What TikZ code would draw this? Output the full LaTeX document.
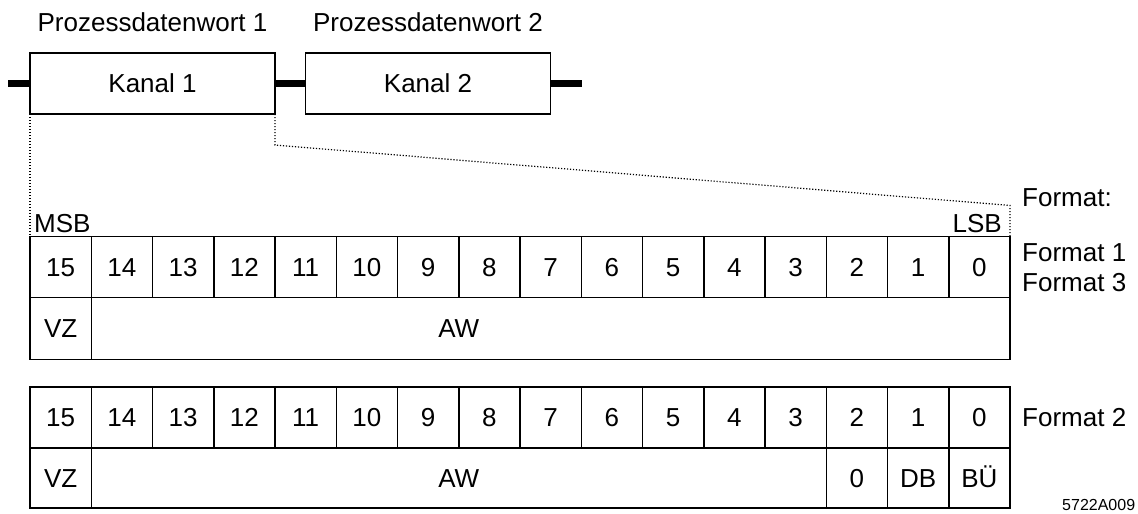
\documentclass[tikz,border=0pt]{standalone}
\usepackage{fontspec}
\setmainfont{Liberation Sans}
\usetikzlibrary{calc}

\begin{document}
\begin{tikzpicture}[x=1pt,y=-1pt,
    cell/.style={draw,line width=1.5pt,minimum width=61.25pt,minimum height=61pt,inner sep=0pt,outer sep=0pt,text height=18.6pt,text depth=0pt,font=\fontsize{26}{30}\selectfont},
    kanal/.style={draw,line width=1.8pt,minimum width=245pt,minimum height=61pt,inner sep=0pt,outer sep=0pt,text height=18.6pt,text depth=0pt,font=\fontsize{26}{30}\selectfont},
    lbl/.style={inner sep=0pt,font=\fontsize{26}{30}\selectfont},
    bus/.style={line width=7pt},
    lupe/.style={line width=1.2pt,dash pattern=on 1.2pt off 1.8pt}]
    \useasboundingbox (0,0) rectangle (1138,514);
    % Prozessdatenworte
    \node[kanal] (k1) at (152.5,83.5) {Kanal 1};
    \node[kanal] (k2) at (428,83.5) {Kanal 2};
    \node[lbl,anchor=base] (pw1) at (152.5,31) {Prozessdatenwort 1};
    \node[lbl,anchor=base] (pw2) at (428,31) {Prozessdatenwort 2};
    \coordinate (busl) at (8,83.5);
    \coordinate (busr) at (582,83.5);
    \draw[bus] (busl) -- (k1.west);
    \draw[bus] (k1.east) -- (k2.west);
    \draw[bus] (k2.east) -- (busr);
    % Format 1 / 3
    \foreach \i in {0,...,15}
        \node[cell] (a\i) at ({1010-61.25*(\i+0.5)},267) {\i};
    \node[cell,anchor=north,minimum height=62pt] (avz) at (a15.south) {VZ};
    \node[cell,anchor=north west,minimum width=918.75pt,minimum height=62pt] (aaw) at (a14.south west) {};
    \node[lbl,text height=18.6pt,text depth=0pt] (awa) at (a8.west |- aaw.center) {AW};
    % Format 2
    \foreach \i in {0,...,15}
        \node[cell] (c\i) at ({1010-61.25*(\i+0.5)},417.5) {\i};
    \node[cell,anchor=north,minimum height=60pt] (cvz) at (c15.south) {VZ};
    \node[cell,anchor=north west,minimum width=735pt,minimum height=60pt] (caw) at (c14.south west) {};
    \node[lbl,text height=18.6pt,text depth=0pt] (awc) at (c8.west |- caw.center) {AW};
    \node[cell,anchor=north,minimum height=60pt] (cnull) at (c2.south) {0};
    \node[cell,anchor=north,minimum height=60pt] (cdb) at (c1.south) {DB};
    \node[cell,anchor=north,minimum height=60pt] (cbu) at (c0.south) {BÜ};
    % Beschriftung
    \node[lbl,anchor=base west] (msb) at (34,232) {MSB};
    \node[lbl,anchor=base east] (lsb) at (1002,232) {LSB};
    \node[lbl,anchor=base west] (fmt) at (1022,206) {Format:};
    \node[lbl,anchor=base west] (fmt1) at (1022,261) {Format 1};
    \node[lbl,anchor=base west] (fmt3) at (1022,291) {Format 3};
    \node[lbl,anchor=base west] (fmt2) at (1022,426) {Format 2};
    \node[inner sep=0pt,anchor=base west,font=\fontsize{16}{18}\selectfont] (bildnr) at (1062,510) {5722A009};
    % Lupe
    \coordinate (knick) at ($(k1.south east)+(0,31)$);
    \coordinate (lsbecke) at ($(a0.north east)+(0,-31)$);
    \draw[lupe] (k1.south west) -- (a15.north west);
    \draw[lupe] (k1.south east) -- (knick) -- (lsbecke) -- (a0.north east);
\end{tikzpicture}
\end{document}
